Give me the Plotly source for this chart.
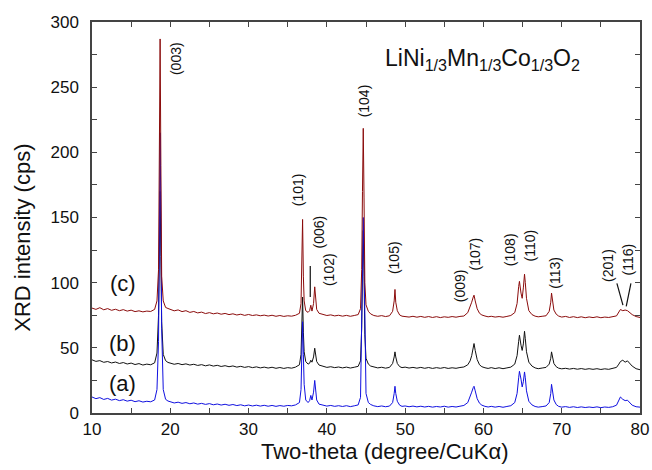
import plotly.graph_objects as go

# ---- data (two-theta grid shared by all three patterns) ----
two_theta = [
    10.0, 10.5, 11.0, 11.5, 12.0, 12.5, 13.0, 13.5, 14.0, 14.5,
    15.0, 15.5, 16.0, 16.5, 17.0, 17.5, 18.0, 18.3, 18.5, 18.6,
    18.7, 18.8, 18.9, 19.1, 19.4, 19.7, 20.0, 20.5, 21.0, 21.5,
    22.0, 22.5, 23.0, 23.5, 24.0, 24.5, 25.0, 25.5, 26.0, 26.5,
    27.0, 27.5, 28.0, 28.5, 29.0, 29.5, 30.0, 30.5, 31.0, 31.5,
    32.0, 32.5, 33.0, 33.5, 34.0, 34.5, 35.0, 35.5, 36.0, 36.5,
    36.7, 36.8, 36.9, 37.0, 37.1, 37.3, 37.6, 37.8, 37.95, 38.1,
    38.3, 38.45, 38.55, 38.7, 39.0, 39.5, 40.0, 40.5, 41.0, 41.5,
    42.0, 42.5, 43.0, 43.5, 44.0, 44.3, 44.45, 44.55, 44.65, 44.75,
    44.85, 45.0, 45.3, 45.6, 46.0, 46.5, 47.0, 47.5, 48.0, 48.4,
    48.6, 48.7, 48.8, 49.0, 49.3, 49.6, 50.0, 50.5, 51.0, 51.5,
    52.0, 52.5, 53.0, 53.5, 54.0, 54.5, 55.0, 55.5, 56.0, 56.5,
    57.0, 57.5, 58.0, 58.3, 58.5, 58.7, 58.8, 58.95, 59.2, 59.5,
    59.8, 60.2, 60.6, 61.0, 61.5, 62.0, 62.5, 63.0, 63.5, 64.0,
    64.3, 64.5, 64.6, 64.8, 64.95, 65.1, 65.25, 65.35, 65.5, 65.8,
    66.2, 66.6, 67.0, 67.5, 68.0, 68.4, 68.6, 68.7, 68.8, 69.0,
    69.3, 69.6, 70.0, 70.5, 71.0, 71.5, 72.0, 72.5, 73.0, 73.5,
    74.0, 74.5, 75.0, 75.5, 76.0, 76.5, 77.0, 77.3, 77.5, 77.8,
    78.1, 78.4, 78.7, 79.0, 79.5, 80.0,
]

intensity_c = [
    80.5, 79.5, 80.8, 79.2, 80.1, 78.8, 79.6, 78.5, 79.3, 78.2,
    78.9, 77.8, 78.4, 77.6, 78.2, 77.9, 79.5, 86, 110, 180,
    287, 190, 105, 86, 81, 80.2, 79.6, 78.4, 79.1, 77.8,
    78.5, 77.2, 77.9, 76.8, 77.4, 76.3, 77.0, 76.1, 76.7, 75.8,
    76.4, 75.5, 76.1, 75.2, 75.8, 74.9, 75.6, 74.8, 75.3, 74.6,
    75.1, 74.4, 75.0, 74.2, 74.8, 74.1, 74.6, 74.3, 75.0, 76.5,
    84, 110, 148.5, 105, 86, 78.5, 77.2, 78.5, 82.7, 78.2,
    84, 96.8, 88, 79.5, 76.5, 75.4, 74.8, 75.3, 74.5, 75.0,
    74.3, 74.9, 74.2, 74.8, 75.5, 80, 110, 170, 218.4, 165,
    100, 83, 78, 76, 74.8, 74.2, 74.7, 74.0, 74.6, 78,
    86, 94.8, 85, 78.5, 75.2, 74.3, 74.0, 73.6, 74.2, 73.5,
    74.1, 73.4, 74.0, 73.3, 73.9, 73.2, 73.8, 73.4, 74.0, 73.5,
    74.1, 74.4, 77, 81, 85, 89, 90.4, 86, 80, 76.5,
    75.2, 74.4, 73.8, 74.2, 73.6, 74.0, 73.5, 74.1, 74.8, 77,
    84, 97, 101, 92, 88, 96, 106.5, 100, 88, 78.5,
    75.5, 74.3, 73.8, 74.2, 74.6, 78, 85, 92, 86, 79,
    75.8, 74.4, 73.6, 74.1, 73.3, 73.9, 73.2, 73.8, 73.1, 73.7,
    73.2, 73.8, 73.1, 73.6, 73.3, 73.9, 74.5, 77.5, 79.4, 78.5,
    79, 78.5, 77.0, 75.5, 74.0, 73.3,
]

intensity_b = [
    40.8, 39.6, 40.2, 38.9, 39.5, 38.4, 39.1, 38.0, 38.7, 37.6,
    38.3, 37.2, 37.9, 36.8, 37.5, 37.0, 38.5, 46, 75, 130,
    170, 120, 70, 45, 40.2, 38.8, 38.3, 37.4, 38.0, 37.1,
    37.7, 36.8, 37.4, 36.5, 37.1, 36.2, 36.9, 36.0, 36.6, 35.7,
    36.3, 35.5, 36.1, 35.2, 35.8, 35.0, 35.6, 34.8, 35.4, 34.6,
    35.2, 34.5, 35.1, 34.3, 34.9, 34.2, 34.8, 34.4, 35.2, 37,
    45, 65, 89, 62, 47, 39.5, 37.5, 38.2, 40.5, 39.0,
    43, 49.7, 45, 39.5, 36.8, 35.6, 35.0, 35.5, 34.8, 35.3,
    34.6, 35.2, 34.5, 35.1, 35.8, 40, 65, 110, 140, 105,
    60, 42, 37.5, 36, 35.2, 34.6, 35.1, 34.4, 35.0, 38,
    43, 46.9, 43, 38, 35.6, 34.8, 35.2, 34.5, 35.0, 34.4,
    35.0, 34.3, 34.9, 34.2, 34.8, 34.3, 34.9, 34.2, 34.7, 34.3,
    34.9, 35.3, 37, 40, 44, 50, 53.3, 48, 41, 37,
    35.5, 34.7, 34.2, 34.8, 34.1, 34.7, 34.0, 34.6, 35.2, 37.5,
    44, 55, 59.7, 52, 48, 53, 62.7, 57, 47, 39,
    36, 34.6, 34.0, 34.5, 35.0, 37.5, 42, 46.9, 43, 38,
    35.5, 34.4, 33.9, 34.3, 33.7, 34.2, 33.6, 34.1, 33.5, 34.0,
    33.5, 34.0, 33.4, 33.9, 33.5, 34.0, 35.0, 37.5, 39.5, 40.5,
    39.0, 40.0, 38.0, 36.0, 34.0, 33.2,
]

intensity_a = [
    12.3, 11.0, 11.8, 10.4, 11.2, 9.9, 10.6, 9.5, 10.2, 9.1,
    9.8, 8.7, 9.4, 8.4, 9.0, 8.6, 10, 18, 55, 140,
    215, 150, 65, 18, 10.5, 9.2, 8.6, 7.7, 8.3, 7.4,
    8.0, 7.1, 7.7, 6.8, 7.4, 6.6, 7.2, 6.3, 6.9, 6.1,
    6.7, 5.9, 6.5, 5.7, 6.3, 5.5, 6.1, 5.4, 6.0, 5.3,
    5.9, 5.2, 5.8, 5.1, 5.7, 5.2, 5.8, 5.5, 6.2, 8,
    18, 45, 70, 45, 22, 10, 8, 9.5, 13.5, 10,
    16, 25, 20, 10, 6.8, 5.8, 5.3, 5.8, 5.1, 5.6,
    5.0, 5.6, 4.9, 5.5, 6.2, 12, 60, 120, 150, 118,
    60, 15, 8, 6.5, 5.5, 4.9, 5.4, 4.8, 5.3, 8,
    15, 20.5, 15, 9, 6, 5.1, 5.4, 4.8, 5.3, 4.7,
    5.2, 4.6, 5.1, 4.5, 5.0, 4.6, 5.2, 4.5, 5.0, 4.6,
    5.2, 5.8, 8, 12, 16, 19.5, 20.5, 17, 11, 7.5,
    6.0, 5.1, 4.6, 5.1, 4.5, 5.0, 4.4, 5.0, 5.6, 8,
    15, 27, 32, 26, 20, 24, 31.5, 27, 17, 9,
    6.2, 5.0, 4.5, 4.9, 5.4, 8, 15, 22, 17, 10,
    6.5, 5.1, 4.5, 4.9, 4.3, 4.8, 4.2, 4.7, 4.2, 4.6,
    4.2, 4.7, 4.1, 4.6, 4.3, 4.8, 6.0, 10.5, 12.3, 10.5,
    9.5, 9.8, 7.5, 6.0, 4.8, 4.5,
]

# Miller-index labels
hkl_text = ["(003)", "(101)", "(006)", "(102)", "(104)", "(105)", "(009)",
            "(107)", "(108)", "(110)", "(113)", "(201)", "(116)"]
hkl_x = [20.8, 36.3, 38.95, 40.2, 44.7, 48.6, 57.0, 58.95, 63.4, 66.0,
         69.2, 76.0, 78.5]
hkl_y = [272, 171.6, 139, 110, 239.6, 119, 98, 121.8, 125, 128.8, 108,
         113.4, 118]

# leader lines (x0, y0, x1, y1)
leader_x0 = [37.88, 77.05, 78.84]
leader_y0 = [112.7, 99.4, 99.4]
leader_x1 = [37.88, 77.82, 78.24]
leader_y1 = [89.0, 82.7, 81.9]

series_names = ["(b)", "(a)", "(c)"]
series_label_y = [53.3, 22.6, 99.4]
series_label_x = 13.9

FONT = "Liberation Sans, Arial, sans-serif"

fig = go.Figure()
fig.add_trace(go.Scatter(x=two_theta, y=intensity_b, mode="lines",
                         line=dict(color="#111111", width=1), name="(b)"))
fig.add_trace(go.Scatter(x=two_theta, y=intensity_a, mode="lines",
                         line=dict(color="#1010e0", width=1), name="(a)"))
fig.add_trace(go.Scatter(x=two_theta, y=intensity_c, mode="lines",
                         line=dict(color="#8b0c0c", width=1), name="(c)"))

for t, xx, yy in zip(hkl_text, hkl_x, hkl_y):
    fig.add_annotation(x=xx, y=yy, xref="x", yref="y", text=t, showarrow=False,
                       textangle=-90, xanchor="center", yanchor="middle",
                       font=dict(family=FONT, size=14, color="#111"))

for x0, y0, x1, y1 in zip(leader_x0, leader_y0, leader_x1, leader_y1):
    fig.add_shape(type="line", x0=x0, y0=y0, x1=x1, y1=y1, xref="x", yref="y",
                  line=dict(color="#111", width=1.2))

for t, yy in zip(series_names, series_label_y):
    fig.add_annotation(x=series_label_x, y=yy, xref="x", yref="y", text=t,
                       showarrow=False, xanchor="center", yanchor="middle",
                       font=dict(family=FONT, size=22, color="#111"))

fig.add_annotation(x=0.712, y=0.905, xref="paper", yref="paper",
                   xanchor="center", yanchor="middle",
                   text="LiNi<sub>1/3</sub>Mn<sub>1/3</sub>Co<sub>1/3</sub>O<sub>2</sub>",
                   showarrow=False, font=dict(family=FONT, size=23, color="#111"))

fig.add_annotation(x=0.535, y=-0.098, xref="paper", yref="paper",
                   xanchor="center", yanchor="middle",
                   text="Two-theta (degree/CuK\u03b1)", showarrow=False,
                   font=dict(family=FONT, size=22, color="#111"))
fig.add_annotation(x=-0.126, y=0.448, xref="paper", yref="paper",
                   xanchor="center", yanchor="middle",
                   text="XRD intensity (cps)", showarrow=False, textangle=-90,
                   font=dict(family=FONT, size=22, color="#111"))

axis_common = dict(showgrid=False, zeroline=False, showline=True, linecolor="#444",
                   linewidth=1.5, mirror="allticks", ticks="inside", ticklen=5,
                   tickwidth=1.2, tickcolor="#444",
                   tickfont=dict(family=FONT, size=17, color="#111"))

fig.update_xaxes(range=[10, 80], dtick=10, tick0=10,
                 minor=dict(dtick=5, ticks="inside", ticklen=5, tickcolor="#444"),
                 **axis_common)
fig.update_yaxes(range=[0, 300], dtick=50, tick0=0, ticklabelstandoff=8,
                 minor=dict(dtick=25, ticks="inside", ticklen=5, tickcolor="#444"),
                 **axis_common)

fig.update_layout(width=652, height=470, showlegend=False,
                  paper_bgcolor="white", plot_bgcolor="white",
                  margin=dict(l=92, r=12, t=22, b=57, autoexpand=False),
                  font=dict(family=FONT))

fig.write_html("out.html", config={"displayModeBar": False},
               post_script="document.body.style.margin='0';document.body.style.overflow='hidden';")
